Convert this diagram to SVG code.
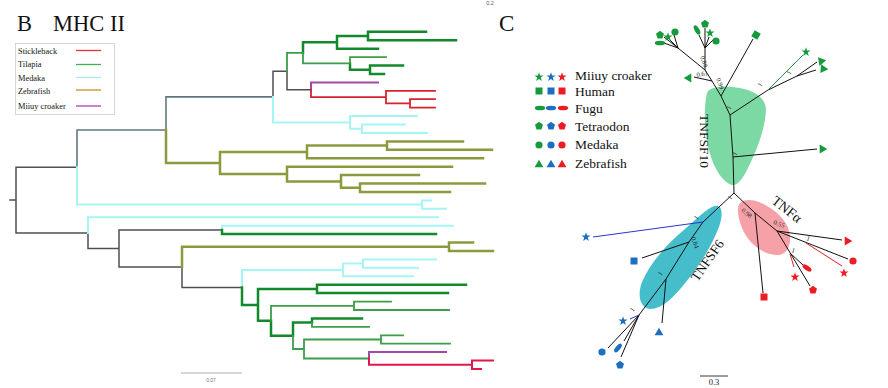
<svg xmlns="http://www.w3.org/2000/svg" xmlns:xlink="http://www.w3.org/1999/xlink" width="888" height="388" viewBox="0 0 888 388">
<style>
.t{font-family:"Liberation Serif","Times New Roman",serif;fill:#111}
.br path{fill:none;stroke-linejoin:miter;stroke-linecap:square}
.gy{stroke:#505050;stroke-width:1.5}
.st{stroke:#5f7880;stroke-width:1.6}
.cy{stroke:#a6f5f5;stroke-width:2}
.gd{stroke:#128a2c;stroke-width:2.5}
.gm{stroke:#3c9e48;stroke-width:1.8}
.pu{stroke:#a24aa8;stroke-width:2}
.rd{stroke:#d8232e;stroke-width:1.8}
.cr{stroke:#e0184a;stroke-width:2}
.ol{stroke:#8c9a3e;stroke-width:2.5}
.tc path{fill:none;stroke:#111;stroke-width:1}
.lbl{font-family:"Liberation Serif","Times New Roman",serif;font-size:6.5px;fill:#222}
.G{fill:#169a3e}.B{fill:#1c6ec2}.R{fill:#ec1c24}
</style>
<defs>
<polygon id="star" points="0,-4.8 1.12,-1.54 4.57,-1.48 1.81,0.59 2.82,3.88 0,1.9 -2.82,3.88 -1.81,0.59 -4.57,-1.48 -1.12,-1.54"/>
<polygon id="pent" points="0,-4.2 4,-1.3 2.45,3.4 -2.45,3.4 -4,-1.3"/>
<polygon id="tri" points="0,-4.3 4.4,3.3 -4.4,3.3"/>
<rect id="sq" x="-3.5" y="-3.5" width="7" height="7"/>
<ellipse id="ell" cx="0" cy="0" rx="5.2" ry="2.3"/>
<circle id="cir" cx="0" cy="0" r="3.6"/>
</defs>

<!-- Panel B title -->
<text class="t" x="17" y="31" font-size="22.5">B</text>
<text class="t" x="53" y="31" font-size="22.5">MHC II</text>
<text x="490" y="5" font-family="Liberation Sans, Arial, sans-serif" font-size="5.5" fill="#555" text-anchor="middle">0.2</text>

<!-- Legend B -->
<g id="legend-b">
<rect x="15.5" y="43.5" width="99" height="71" fill="#fff" stroke="#ccc" stroke-width="0.8"/>
<g class="t" font-size="8.4">
<text x="18" y="54">Stickleback</text>
<text x="18" y="67">Tilapia</text>
<text x="18" y="81">Medaka</text>
<text x="18" y="94">Zebrafish</text>
<text x="18" y="109">Miiuy croaker</text>
</g>
<g stroke-width="1.3">
<line x1="76" y1="50.5" x2="101" y2="50.5" stroke="#e8303a"/>
<line x1="76" y1="64.5" x2="101" y2="64.5" stroke="#3cb452"/>
<line x1="76" y1="77.5" x2="101" y2="77.5" stroke="#a8e8f0"/>
<line x1="76" y1="90" x2="101" y2="90" stroke="#c8901c"/>
<line x1="76" y1="106" x2="101" y2="106" stroke="#b040b0"/>
</g>
</g>

<!-- Tree B connectors -->
<g id="tree-b" class="br">
<path class="gy" d="M10 200.1H16M16 200.1V167.3H77M16 200.1V232.9H88M273 96.9V71.3H287M287 71.3V89.75H311M88 232.9V248.5H119M119 248.5V229.9H222M119 248.5V267.1H182M182 267.1V287.4H242"/>
<path class="st" d="M77 167.3V130H166M166 130V96.9H273"/>
<path class="cy" d="M77 167.3V204.6H422M422 204.6V200.4H431M422 204.6V208.8H446M88 232.9V217.3H438M222 229.9V225.7H453M273 96.9V122.4H350M350 122.4V116.1H417M350 122.4V128.75H362M362 128.75V124.5H405M362 128.75V133H427M242 287.4V270H343M343 270V263.6H363M363 263.6V259.4H436M363 263.6V267.8H418M343 270V276.3H413"/>
<path class="gd" d="M368 36V31.8H426M368 36V40.2H456M337 42.35V36H368M337 42.35V48.7H378M303 52.9V42.35H337M370 69.75V65.5H403M370 69.75V74H384M350 63.4V69.75H370M222 229.9V234.1H436M317 288.9V284.7H466M317 288.9V293.1H448M258 304.9V288.9H317M242 287.4V304.9H258M312 322.6V318.4H362M293 335.8V322.6H312M271 320.8V335.8H293M258 304.9V320.8H271"/>
<path class="gm" d="M287 71.3V52.9H303M303 52.9V63.4H350M350 63.4V57.1H386M354 305.8V301.6H391M354 305.8V310H449M271 320.8V305.8H354M312 322.6V326.9H369M304 349V339.5H381M381 339.5V335.3H403M381 339.5V343.7H450M293 335.8V349H304M304 349V358.5H369"/>
<path class="pu" d="M311 89.75V82.4H378M369 358.5V352.1H446"/>
<path class="rd" d="M311 89.75V97.1H386M386 97.1V90.8H435M386 97.1V103.45H410M410 103.45V99.2H435M410 103.45V107.7H435"/>
<path class="cr" d="M369 358.5V364.8H472M472 364.8V360.6H493M472 364.8V369H481"/>
<path class="ol" d="M166 130V163H220M220 163V152H307M307 152V145.6H387M387 145.6V141.4H463M387 145.6V149.8H492M307 152V158.3H483M220 163V174.1H287M287 174.1V166.7H452M287 174.1V181.4H341M341 181.4V175.1H419M341 181.4V187.75H360M360 187.75V183.5H485M360 187.75V192H450M182 267.1V246.8H449M449 246.8V242.6H473M449 246.8V251H493"/>
</g>
<g id="scale-b">
<line x1="181" y1="373" x2="242" y2="373" stroke="#999" stroke-width="0.8"/>
<text x="211" y="381.5" font-family="Liberation Sans, Arial, sans-serif" font-size="5" fill="#777" text-anchor="middle">0.07</text>
</g>

<!-- Panel C -->
<text class="t" x="499" y="31" font-size="23">C</text>

<g id="legend-c">
<use href="#star" x="539" y="77" class="G"/><use href="#star" x="551" y="77" class="B"/><use href="#star" x="562" y="77" class="R"/>
<use href="#sq" x="539" y="91" class="G"/><use href="#sq" x="551" y="91" class="B"/><use href="#sq" x="562" y="91" class="R"/>
<use href="#ell" x="540" y="108" class="G"/><use href="#ell" x="551" y="108" class="B"/><use href="#ell" x="563" y="108" class="R"/>
<use href="#pent" x="539" y="126" class="G"/><use href="#pent" x="551" y="126" class="B"/><use href="#pent" x="562" y="126" class="R"/>
<use href="#cir" x="539" y="145" class="G"/><use href="#cir" x="551" y="145" class="B"/><use href="#cir" x="562" y="145" class="R"/>
<use href="#tri" x="539" y="164" class="G"/><use href="#tri" x="551" y="164" class="B"/><use href="#tri" x="562" y="164" class="R"/>
<g class="t" font-size="13.5">
<text x="575" y="80">Miiuy croaker</text>
<text x="575" y="96">Human</text>
<text x="575" y="113">Fugu</text>
<text x="575" y="131">Tetraodon</text>
<text x="575" y="149">Medaka</text>
<text x="575" y="168">Zebrafish</text>
</g>
</g>

<!-- clade shading -->
<g id="clade-tnfsf10">
<path d="M707 93C710 86 725 86 740 88C755 91 766 98 766 110C765 130 757 150 747 170C742 180 737 186 732 185C724 183 714 170 709 150C705 135 703 110 707 93Z" fill="#7dd9a4"/>
<text class="t" font-size="13.5" transform="translate(700 141) rotate(90)" text-anchor="middle">TNFSF10</text>
</g>
<g id="clade-tnfsf6">
<path d="M718 206C724 208 722 222 716 234C709 250 699 266 686 282C674 297 662 309 650 309C640 308 637 295 642 282C650 263 668 243 685 229C698 218 711 204 718 206Z" fill="#45bdca"/>
<text class="t" font-size="13.5" transform="translate(711 263) rotate(-55)" text-anchor="middle">TNFSF6</text>
</g>
<g id="clade-tnfa">
<path d="M740 203C745 198 756 199 767 206C779 213 789 223 790 236C791 248 785 256 776 255C764 254 752 246 745 234C740 225 735 209 740 203Z" fill="#f6a1a8"/>
<text class="t" font-size="14" transform="translate(784 213) rotate(38)" text-anchor="middle">TNFα</text>
</g>

<!-- Tree C connectors -->
<g id="tree-c" class="tc">
<path d="M734 193L733 157L730 115L721 96L712 81L705 70M733 157L817 149M730 115L768 90L797 76L817 62M797 76L816 70M721 96L753 39M712 81L694 77M705 70L678 48M678 48L664 43M678 48L664 37M678 48L670 40M678 48L674 35M705 70L705 48M705 48L699 35M705 48L705 28M705 48L709 37M705 48L713 40"/>
<path d="M768 90L803 55" style="stroke:#169a3e"/>
<path d="M734 193L703 222L689 242L666 279L639 315M689 242L642 258M666 279L662 323M639 315L608 348M639 315L621 357M639 315L624 341"/>
<path d="M703 222L593 237M639 315L630 319" style="stroke:#2b35c8"/>
<path d="M734 193L755 213L763 293M755 213L777 231L842 240M777 231L848 259M777 231L810 286M790 253L803 265"/>
<path d="M806 243L842 266M790 254L794 267" style="stroke:#ec1c24"/>
</g>

<!-- Tree C leaves -->
<g id="leaves-tnfsf10" class="G">
<use href="#tri" transform="translate(823 149) rotate(90)"/>
<use href="#tri" transform="translate(822 61) rotate(80)"/>
<use href="#tri" transform="translate(824 69) rotate(95)"/>
<use href="#star" x="806" y="52"/>
<use href="#sq" transform="translate(756 35) rotate(30)"/>
<use href="#tri" transform="translate(688 78) rotate(-90)"/>
<use href="#ell" x="660" y="43"/>
<use href="#pent" x="660" y="35"/>
<use href="#star" x="668" y="37"/>
<use href="#cir" x="675" y="32"/>
<use href="#ell" transform="translate(697 30) rotate(60)"/>
<use href="#pent" x="705" y="24"/>
<use href="#star" x="710" y="33"/>
<use href="#cir" x="716" y="41"/>
</g>
<g id="leaves-tnfsf6" class="B">
<use href="#star" x="586" y="237"/>
<use href="#sq" x="634" y="261"/>
<use href="#tri" x="659" y="332"/>
<use href="#star" x="623" y="321"/>
<use href="#cir" x="602" y="352"/>
<use href="#ell" transform="translate(618 348) rotate(-50)"/>
<use href="#pent" x="620" y="365"/>
</g>
<g id="leaves-tnfa" class="R">
<use href="#tri" transform="translate(848 241) rotate(90)"/>
<use href="#cir" x="853" y="261"/>
<use href="#star" x="844" y="273"/>
<use href="#pent" x="813" y="290"/>
<use href="#star" x="795" y="277"/>
<use href="#ell" transform="translate(807 268) rotate(35)"/>
<use href="#sq" x="764" y="297"/>
</g>

<!-- support values -->
<g id="support">
<text class="lbl" transform="translate(700 57) rotate(70)">0.89</text>
<text class="lbl" transform="translate(697 77) rotate(-10)">0.61</text>
<text class="lbl" transform="translate(716 79) rotate(70)">0.99</text>
<text class="lbl" transform="translate(730 110) rotate(-60)">1</text>
<text class="lbl" transform="translate(761 87) rotate(-60)">1</text>
<text class="lbl" transform="translate(790 75) rotate(-60)">1</text>
<text class="lbl" transform="translate(736 156) rotate(-60)">1</text>
<text class="lbl" transform="translate(731 200) rotate(-60)">1</text>
<text class="lbl" transform="translate(697 220) rotate(-55)">1</text>
<text class="lbl" transform="translate(691 238) rotate(70)">0.84</text>
<text class="lbl" transform="translate(661 276) rotate(-55)">1</text>
<text class="lbl" transform="translate(633 312) rotate(-55)">1</text>
<text class="lbl" transform="translate(741 211) rotate(40)">0.98</text>
<text class="lbl" transform="translate(773 224) rotate(20)">0.55</text>
<text class="lbl" transform="translate(806 240) rotate(20)">1</text>
<text class="lbl" transform="translate(791 252) rotate(20)">1</text>
</g>

<g id="scale-c">
<line x1="700" y1="376" x2="728" y2="376" stroke="#222" stroke-width="0.9"/>
<text x="714" y="384.5" font-family="Liberation Serif, serif" font-size="8.5" fill="#222" text-anchor="middle">0.3</text>
</g>
</svg>
